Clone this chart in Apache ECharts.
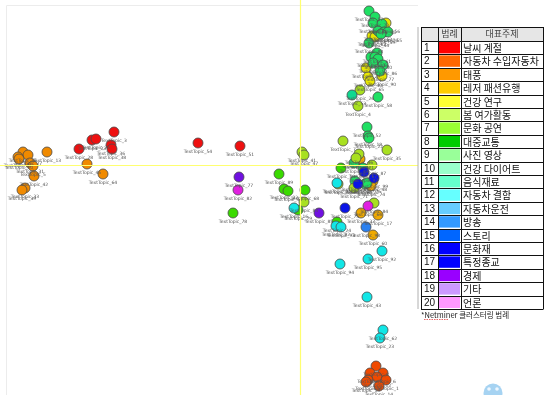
<!DOCTYPE html>
<html>
<head>
<meta charset="utf-8">
<script src="https://cdn.jsdelivr.net/npm/echarts@6/dist/echarts.min.js"></script>
<style>
  html, body { margin: 0; padding: 0; background: #fff; }
  #chart { width: 544px; height: 395px; }
</style>
</head>
<body>
<div id="chart"></div>
<script>
// cluster points, each [x, y, topic no] in map units
const redPts = [[114, 132, 3], [92, 140, 23], [96, 139, 25], [79, 149, 28], [111, 145, 36], [112, 149, 38], [198, 143, 54], [240, 146, 51]];
const orangePts = [[23, 152, 15], [28, 155, 27], [18, 157, 11], [19, 159, 20], [30, 163, 31], [33, 166, 5], [47, 152, 13], [34, 176, 42], [25, 188, 33], [22, 190, 39], [87, 164, 45], [103, 174, 64]];
const goldPts = [[360, 159, 21], [373, 181, 48], [371, 186, 74], [361, 213, 37], [378, 215, 17], [373, 235, 60]];
const orangeRedPts = [[376, 366, 8], [370, 373, 2], [383, 373, 6], [377, 377, 12], [368, 380, 9], [386, 380, 1], [366, 382, 19], [379, 386, 14]];
const yellowPts = [[386, 23, 56], [372, 36, 62], [375, 37, 44], [366, 68, 29], [382, 76, 90], [368, 77, 40], [370, 81, 65]];
const springPts = [[369, 11, 57], [375, 17, 73], [373, 23, 81], [382, 24, 85], [378, 31, 63], [384, 32, 76], [388, 32, 55], [381, 34, 59], [369, 43, 88], [377, 53, 61], [371, 57, 70], [375, 57, 66], [378, 59, 80], [373, 63, 50], [383, 65, 86], [380, 71, 77], [378, 97, 58], [367, 127, 52], [368, 136, 18], [369, 138, 22], [354, 163, 49], [363, 168, 67], [355, 181, 69], [365, 184, 72], [367, 183, 75]];
const limePts = [[343, 141, 7], [302, 152, 41], [304, 155, 47], [387, 150, 35], [359, 154, 46], [356, 158, 30], [372, 165, 87], [338, 184, 43], [354, 188, 71], [304, 202, 83], [374, 203, 84], [360, 90, 26], [358, 106, 4]];
const greenPts = [[233, 213, 78], [279, 174, 89], [284, 189, 32], [288, 191, 34], [298, 210, 79], [305, 190, 68], [341, 168, 10], [337, 222, 24]];
const tealPts = [[352, 95, 53]];
const cyanPts = [[294, 208, 16], [337, 183, 91], [336, 226, 82], [341, 227, 93], [382, 251, 92], [368, 259, 95], [340, 264, 94], [367, 297, 43], [383, 330, 62], [380, 338, 23]];
const bluePts = [[364, 172, 97], [374, 178, 99], [358, 184, 96], [345, 208, 75]];
const midBluePts = [[366, 227, 98]];
const purplePts = [[239, 177, 77], [319, 213, 85]];
const magentaPts = [[238, 190, 82], [368, 206, 66]];

// legend table
const legendColors = ['#ff0000', '#ff6600', '#ff9900', '#ffcc00', '#ffff33', '#ccff66', '#99ff33', '#00cc00', '#99ff99', '#99ffcc',
  '#66ffcc', '#66ffff', '#66ccff', '#3399ff', '#0066ff', '#0000ff', '#0000ff', '#9900ff', '#cc99ff', '#ff99ff'];
const legendNames = ['날씨 계절', '자동차 수입자동차', '태풍', '레저 패션유행', '건강 연구', '봄 여가활동', '문화 공연', '대중교통', '사진 영상', '건강 다이어트',
  '음식재료', '자동차 결함', '자동차운전', '방송', '스토리', '문화재', '특정종교', '경제', '기타', '언론'];
const headerTexts = ['범례', '대표주제'];

const chart = echarts.init(document.getElementById('chart'));

const pointSeries = (color, data) => ({
  type: 'scatter',
  data,
  symbolSize: 10,
  itemStyle: { color, borderColor: '#4a4a4a', borderWidth: 0.8, opacity: 1 },
  label: {
    show: true,
    position: 'bottom',
    distance: 1,
    fontSize: 4.5,
    color: '#555',
    fontFamily: 'DejaVu Sans',
    formatter: (p) => 'TextTopic_' + p.value[2],
  },
  z: 3,
});

// table geometry
const colX = [421, 438, 461, 543];
const tableTop = 27, headH = 14, rowH = 13.4;
const tableBottom = tableTop + headH + rowH * 20;
const kr = '"Noto Sans CJK KR", sans-serif';

const graphics = [];
graphics.push({ type: 'rect', z: 100, shape: { x: colX[0], y: tableTop, width: colX[3] - colX[0], height: tableBottom - tableTop }, style: { fill: '#fff' } });
graphics.push({ type: 'rect', z: 100, shape: { x: colX[0], y: tableTop, width: colX[3] - colX[0], height: headH }, style: { fill: '#e6e6e6' } });
graphics.push({ type: 'line', z: 100, shape: { x1: 418, y1: tableTop, x2: 418, y2: tableBottom }, style: { stroke: '#b0b0b0', lineWidth: 1 } });
headerTexts.forEach((t, i) => {
  graphics.push({ type: 'text', z: 102, x: (colX[i + 1] + colX[i + 2]) / 2, y: tableTop + headH / 2,
    style: { text: t, fill: '#444', font: '9px ' + kr, align: 'center', verticalAlign: 'middle' } });
});
legendColors.forEach((c, i) => {
  const y = tableTop + headH + rowH * i;
  graphics.push({ type: 'rect', z: 101, shape: { x: colX[1] + 1, y: y + 1, width: colX[2] - colX[1] - 2, height: rowH - 2 }, style: { fill: c } });
  graphics.push({ type: 'text', z: 102, x: colX[0] + 3, y: y + rowH / 2 + 0.5,
    style: { text: String(i + 1), fill: '#111', font: '10px "Liberation Sans", sans-serif', verticalAlign: 'middle' } });
  graphics.push({ type: 'text', z: 102, x: colX[2] + 2, y: y + rowH / 2 + 0.5,
    style: { text: legendNames[i], fill: '#111', font: '10px ' + kr, verticalAlign: 'middle' } });
});
for (let i = 0; i <= 21; i++) {
  const y = i === 0 ? tableTop : tableTop + headH + rowH * (i - 1);
  graphics.push({ type: 'line', z: 103, shape: { x1: colX[0], y1: Math.round(y) + 0.5, x2: colX[3], y2: Math.round(y) + 0.5 }, style: { stroke: '#111', lineWidth: 1 } });
}
colX.forEach((x) => {
  graphics.push({ type: 'line', z: 103, shape: { x1: x + 0.5, y1: tableTop, x2: x + 0.5, y2: Math.round(tableBottom) + 0.5 }, style: { stroke: '#111', lineWidth: 1 } });
});
graphics.push({ type: 'text', z: 102, x: colX[0], y: tableBottom + 6,
  style: { text: '*Netminer 클러스터링 범례', fill: '#222', font: '7.5px ' + kr, verticalAlign: 'middle' } });
graphics.push({ type: 'line', z: 102, shape: { x1: 424, y1: tableBottom + 10.5, x2: 448, y2: tableBottom + 10.5 }, style: { stroke: '#e04040', lineWidth: 0.8, lineDash: [1.5, 1] } });
// faint plot frame
graphics.push({ type: 'polyline', z: 1, shape: { points: [[6.5, 395], [6.5, 5.5], [418, 5.5]] }, style: { stroke: '#ececec', fill: null, lineWidth: 1 } });
// corner icon
graphics.push({ type: 'circle', z: 1, shape: { cx: 493, cy: 393, r: 9.5 }, style: { fill: '#a6d3f2' } });
graphics.push({ type: 'circle', z: 2, shape: { cx: 489, cy: 389, r: 1.8 }, style: { fill: '#eef7ff' } });
graphics.push({ type: 'circle', z: 2, shape: { cx: 497, cy: 389, r: 1.8 }, style: { fill: '#eef7ff' } });

const option = {
  animation: false,
  grid: { left: 0, right: 0, top: 0, bottom: 0 },
  xAxis: { type: 'value', min: 0, max: 544, show: false },
  yAxis: { type: 'value', min: 0, max: 395, inverse: true, show: false },
  series: [
    {
      type: 'scatter',
      data: [],
      markLine: {
        silent: true,
        symbol: 'none',
        label: { show: false },
        lineStyle: { color: '#ffff70', width: 1.2, type: 'solid' },
        data: [
          [{ coord: [0, 165] }, { coord: [418, 165] }],
          [{ coord: [300, 0] }, { coord: [300, 395] }],
        ],
      },
      z: 1,
    },
    pointSeries('#ee1010', redPts),
    pointSeries('#f08a00', orangePts),
    pointSeries('#f0aa00', goldPts),
    pointSeries('#f04a00', orangeRedPts),
    pointSeries('#e8e800', yellowPts),
    pointSeries('#1fe063', springPts),
    pointSeries('#a8e020', limePts),
    pointSeries('#3ada00', greenPts),
    pointSeries('#10d890', tealPts),
    pointSeries('#12e6e6', cyanPts),
    pointSeries('#0a14e6', bluePts),
    pointSeries('#2a80f0', midBluePts),
    pointSeries('#7010e0', purplePts),
    pointSeries('#e020e0', magentaPts),
  ],
  graphic: graphics,
};

chart.setOption(option);
</script>
</body>
</html>
